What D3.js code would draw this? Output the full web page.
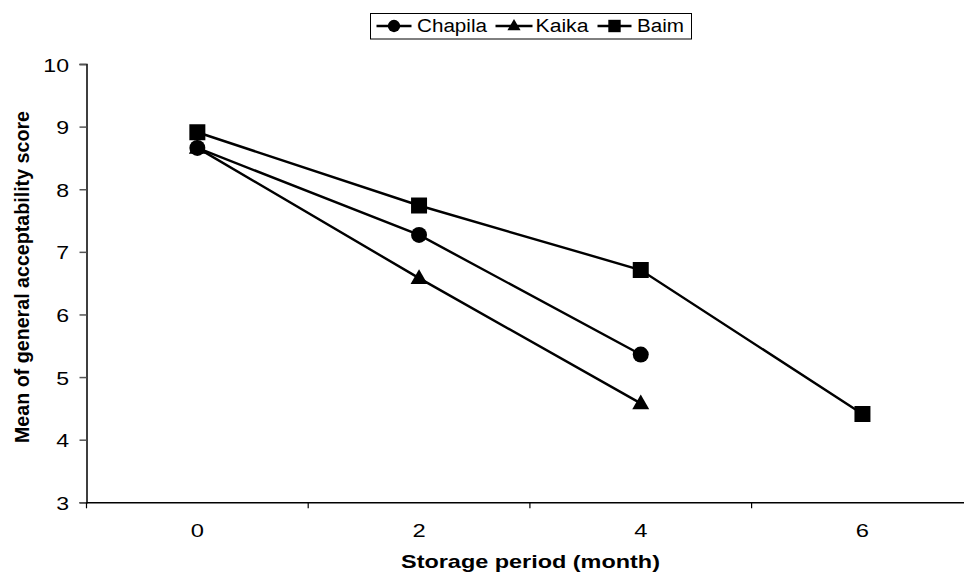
<head>
  <script src="https://d3js.org/d3.v7.min.js"></script>
</head>
<style>
  body { margin: 0; background: #fff; }
  text { font-family: "Liberation Sans", Arial, sans-serif; fill: #000; }
</style>
<body>
  <svg id="chart"></svg>
</body>
<script>
  var w = 964;
  var h = 574;
  var margin = {top: 64, left: 86.5, bottom: 72};

  // data
  var months = ["0", "2", "4", "6"];
  var chapila = [8.66, 7.27, 5.36];
  var kaika = [8.66, 6.58, 4.58];
  var baim = [8.91, 7.74, 6.71, 4.41];
  var yTicks = [3, 4, 5, 6, 7, 8, 9, 10];

  var series = [
    {name: "Chapila", values: chapila, shape: d3.symbolCircle, size: 200},
    {name: "Kaika", values: kaika, shape: d3.symbolTriangle, size: 125},
    {name: "Baim", values: baim, shape: d3.symbolSquare, size: 256}
  ];

  // the picture is a bit wider than the fonts are tall
  var sx = 1.32;

  var svg = d3.select("#chart").attr("width", w).attr("height", h);

  var x = d3.scaleBand()
      .domain(months)
      .range([margin.left, margin.left + 4 * 221.7]);
  var y = d3.scaleLinear()
      .domain([3, 10])
      .range([h - margin.bottom + 0.3, margin.top]);

  // y axis
  var yAxis = svg.append("g")
      .attr("transform", "translate(" + margin.left + ",0)")
      .call(d3.axisLeft(y).tickValues(yTicks).tickFormat(d3.format("d")).tickSize(7));
  yAxis.selectAll("text")
      .attr("x", 0)
      .attr("dy", "0.4em")
      .attr("transform", "translate(-17.5,0) scale(" + sx + ",1)")
      .style("font-size", "17.5px")
      .attr("fill", "#000");
  yAxis.selectAll(".tick line").attr("stroke", "#555").attr("stroke-width", 1.5);

  // x axis
  var xAxis = svg.append("g")
      .attr("transform", "translate(0," + y(3) + ")")
      .call(d3.axisBottom(x).tickSize(0));
  xAxis.selectAll("text")
      .attr("y", 0)
      .attr("dy", null)
      .attr("transform", "translate(0,34.5) scale(" + sx + ",1)")
      .style("font-size", "18px")
      .attr("fill", "#000");
  svg.selectAll(".domain").attr("stroke", "#000").attr("stroke-width", 1.5);

  // tick marks between categories
  var bounds = months.map(function(m){ return x(m); }).concat([x(months[3]) + x.bandwidth()]);
  svg.append("g").selectAll("line")
      .data(bounds)
      .enter().append("line")
      .attr("x1", function(d){ return d; })
      .attr("x2", function(d){ return d; })
      .attr("y1", y(3))
      .attr("y2", y(3) + 6)
      .attr("stroke", "#000")
      .attr("stroke-width", 1.2);

  var cx = function(i){ return x(months[i]) + x.bandwidth() / 2; };
  var line = d3.line()
      .x(function(d, i){ return cx(i); })
      .y(function(d){ return y(d); });

  series.forEach(function(s){
    svg.append("path")
        .attr("d", line(s.values))
        .attr("fill", "none")
        .attr("stroke", "#000")
        .attr("stroke-width", 2.4);
  });
  // markers drawn after lines
  series.forEach(function(s){
    svg.append("g").selectAll("path")
        .data(s.values)
        .enter().append("path")
        .attr("d", d3.symbol().type(s.shape).size(s.size))
        .attr("transform", function(d, i){
          var dy = s.shape === d3.symbolTriangle ? 1 : 0;
          return "translate(" + cx(i) + "," + (y(d) + dy) + ")";
        })
        .attr("fill", "#000");
  });

  // axis titles
  svg.append("text")
      .attr("x", 401)
      .attr("y", 568)
      .attr("textLength", 259)
      .attr("lengthAdjust", "spacingAndGlyphs")
      .style("font-size", "19px")
      .style("font-weight", "bold")
      .text("Storage period (month)");
  svg.append("text")
      .attr("transform", "translate(28.5,443) rotate(-90)")
      .attr("textLength", 332)
      .attr("lengthAdjust", "spacingAndGlyphs")
      .style("font-size", "20.5px")
      .style("font-weight", "bold")
      .text("Mean of general acceptability score");

  // legend
  var legend = svg.append("g");
  legend.append("rect")
      .attr("x", 370.5).attr("y", 13.5)
      .attr("width", 321).attr("height", 25.5)
      .attr("fill", "#fff").attr("stroke", "#000").attr("stroke-width", 1);
  var legendX = [376.5, 495.5, 597.5];
  var legendW = [35, 37, 34];
  var textX = [417, 535.5, 637];
  var textW = [70, 53, 47];
  series.forEach(function(s, i){
    var g = legend.append("g");
    g.append("line")
        .attr("x1", legendX[i]).attr("x2", legendX[i] + legendW[i])
        .attr("y1", 26).attr("y2", 26)
        .attr("stroke", "#000").attr("stroke-width", 2.4);
    g.append("path")
        .attr("d", d3.symbol().type(s.shape).size(s.size * 0.6))
        .attr("transform", "translate(" + (legendX[i] + legendW[i] / 2) + "," + (s.shape === d3.symbolTriangle ? 26.5 : 26) + ")")
        .attr("fill", "#000");
    g.append("text")
        .attr("x", textX[i])
        .attr("y", 32)
        .attr("textLength", textW[i])
        .attr("lengthAdjust", "spacingAndGlyphs")
        .style("font-size", "18px")
        .text(s.name);
  });
</script>
